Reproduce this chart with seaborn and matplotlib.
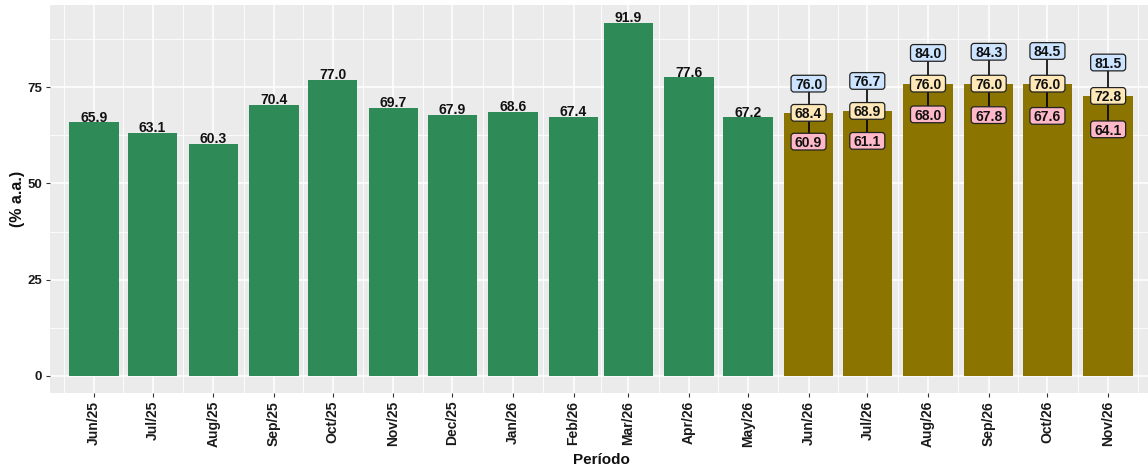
import numpy as np
import pandas as pd
import matplotlib
matplotlib.use("Agg")
import matplotlib.pyplot as plt
import matplotlib.dates as mdates
import matplotlib.transforms as mtransforms
from matplotlib.patches import FancyBboxPatch
import seaborn as sns

# ---------------- data ----------------
months = pd.date_range("2025-06-01", periods=18, freq="MS")
month_labels = ["Jun/25", "Jul/25", "Aug/25", "Sep/25", "Oct/25", "Nov/25",
                "Dec/25", "Jan/26", "Feb/26", "Mar/26", "Apr/26", "May/26",
                "Jun/26", "Jul/26", "Aug/26", "Sep/26", "Oct/26", "Nov/26"]
realized = [65.9, 63.1, 60.3, 70.4, 77.0, 69.7, 67.9, 68.6, 67.4, 91.9, 77.6, 67.2]
forecast_mid = [68.4, 68.9, 76.0, 76.0, 76.0, 72.8]
forecast_high = [76.0, 76.7, 84.0, 84.3, 84.5, 81.5]
forecast_low = [60.9, 61.1, 68.0, 67.8, 67.6, 64.1]
y_ticks = [0, 25, 50, 75]

n_real = len(realized)
xnum = mdates.date2num(months.to_pydatetime())
df = pd.DataFrame({
    "x": xnum,
    "value": realized + forecast_mid,
    "tipo": ["Realizado"] * n_real + ["Projeção"] * len(forecast_mid),
})
fc = pd.DataFrame({"x": xnum[n_real:], "mid": forecast_mid,
                   "high": forecast_high, "low": forecast_low})

# ---------------- style ----------------
sns.set_theme(style="darkgrid")
plt.rcParams["font.family"] = ["Liberation Sans", "DejaVu Sans"]
plt.rcParams["font.weight"] = "bold"

W, H = 1148, 468
fig = plt.figure(figsize=(W / 100, H / 100), dpi=100)
ax = fig.add_axes([50 / W, 74.8 / H, 1102 / W, 388.3 / H])
ax.set_facecolor("#EBEBEB")

sns.barplot(data=df, x="x", y="value", hue="tipo",
            palette={"Realizado": "#2E8B57", "Projeção": "#8B7500"},
            native_scale=True, dodge=False, width=0.9, saturation=1,
            legend=False, ax=ax, zorder=2, linewidth=0, errorbar=None)

# ---------------- labels on realized bars ----------------
for xv, v in zip(df["x"][:n_real], realized):
    ax.text(xv, v + 0.2, f"{v:.1f}", ha="center", va="baseline",
            fontsize=10, fontweight="bold", color="#111111", zorder=5)

# ---------------- forecast ranges ----------------
ax.vlines(fc["x"], fc["low"], fc["high"], color="black", lw=1.2, zorder=3)

box_colors = {"high": "#CCE4FF", "mid": "#FFE8B8", "low": "#FFB8C8"}
bw, bh = 0.35, 0.167  # inches


def label_box(x, y, txt, color):
    trans = fig.dpi_scale_trans + mtransforms.ScaledTranslation(x, y, ax.transData)
    p = FancyBboxPatch((-bw / 2, -bh / 2), bw, bh,
                       boxstyle="round,pad=0,rounding_size=0.03",
                       facecolor=color, edgecolor="#222222", lw=0.9,
                       transform=trans, zorder=4, clip_on=False)
    ax.add_patch(p)
    ax.text(x, y, txt, ha="center", va="center_baseline", fontsize=10,
            fontweight="bold", color="#111111", zorder=5)


for _, r in fc.iterrows():
    for key in ("high", "mid", "low"):
        label_box(r["x"], r[key], f"{r[key]:.1f}", box_colors[key])

# ---------------- axes ----------------
ax.set_xlim(xnum[0] - 22.4, xnum[-1] + 22.4)
ax.set_ylim(-4.6, 96.5)
ax.set_xticks(xnum)
ax.set_xticklabels(month_labels, rotation=90, fontsize=10, fontweight="bold",
                   color="#1a1a1a")
minor_x = np.concatenate([[xnum[0] - 15.5], (xnum[:-1] + xnum[1:]) / 2,
                          [xnum[-1] + 15]])
ax.set_xticks(minor_x, minor=True)
ax.set_yticks(y_ticks)
ax.set_yticklabels([str(t) for t in y_ticks], fontsize=9.5, fontweight="bold",
                   color="#1a1a1a")
ax.set_yticks([12.5, 37.5, 62.5, 87.5], minor=True)

ax.set_axisbelow(True)
ax.grid(which="major", color="white", lw=1.1)
ax.grid(which="minor", color="white", lw=0.6)
ax.tick_params(which="major", length=3, width=0.8, color="#333333", pad=2.5,
               bottom=True, left=True)
ax.tick_params(which="minor", length=0)
for s in ax.spines.values():
    s.set_visible(False)

ax.set_xlabel("Período", fontsize=11, fontweight="bold", color="#111111",
              labelpad=4)
ax.set_ylabel("(% a.a.)", fontsize=11.5, fontweight="bold", color="#111111",
              labelpad=2)

fig.savefig("out.png", dpi=100)
